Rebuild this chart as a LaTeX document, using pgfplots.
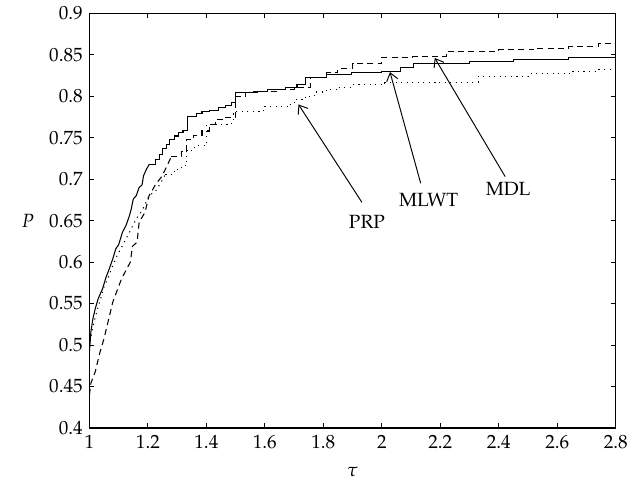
\documentclass[border=0pt]{standalone}
\usepackage[T1]{fontenc}
\usepackage{mathpazo}
\usepackage{pgfplots}
\pgfplotsset{compat=1.18}
\usetikzlibrary{arrows.meta}

\begin{document}
\begin{tikzpicture}
\begin{axis}[
    scale only axis,
    width=275.4pt,
    height=217.1pt,
    xmin=1, xmax=2.8,
    ymin=0.4, ymax=0.9,
    xtick={1,1.2,...,2.8},
    ytick={0.4,0.45,...,0.9},
    xticklabels={1,1.2,1.4,1.6,1.8,2,2.2,2.4,2.6,2.8},
    yticklabels={0.4,0.45,0.5,0.55,0.6,0.65,0.7,0.75,0.8,0.85,0.9},
    tick align=inside,
    tick pos=both,
    major tick length=2.6pt,
    axis line style={line width=0.6pt},
    every tick/.style={black, line width=0.5pt},
    xlabel={$\tau$},
    ylabel={$P$},
    xlabel style={at={(axis description cs:0.5,-0.105)}, anchor=center},
    ylabel style={at={(axis description cs:-0.117,0.5)}, anchor=center, rotate=-90},
    clip=true,
]

% MLWT (solid): steep part, then steps
\addplot[black, line width=0.55pt, sharp plot] coordinates {
(1.000,0.492) (1.005,0.516) (1.012,0.532) (1.020,0.544) (1.030,0.556)
(1.045,0.568) (1.057,0.582) (1.068,0.592) (1.080,0.604) (1.090,0.616)
(1.100,0.621) (1.113,0.636) (1.125,0.644) (1.136,0.655) (1.143,0.664)
(1.150,0.676) (1.160,0.680) (1.170,0.690) (1.180,0.693) (1.185,0.704)
(1.195,0.712) (1.205,0.718)
};
\addplot[black, line width=0.55pt, const plot mark left] coordinates {
(1.205,0.718) (1.225,0.724) (1.240,0.730)
(1.250,0.737) (1.262,0.742) (1.275,0.748) (1.290,0.752) (1.305,0.756)
(1.320,0.759) (1.335,0.776) (1.365,0.779) (1.385,0.781) (1.410,0.783)
(1.440,0.786) (1.465,0.789) (1.485,0.792) (1.500,0.804) (1.560,0.806)
(1.610,0.808) (1.670,0.811) (1.710,0.814) (1.740,0.822) (1.810,0.826)
(1.895,0.828) (2.000,0.830) (2.065,0.835) (2.110,0.839) (2.300,0.842)
(2.450,0.844) (2.640,0.847) (2.800,0.847)
};

% MDL (dashed)
\addplot[black, line width=0.55pt, dash pattern=on 3.2pt off 2.2pt, sharp plot] coordinates {
(1.000,0.440) (1.005,0.454) (1.020,0.468) (1.035,0.490) (1.050,0.508)
(1.065,0.530) (1.080,0.552) (1.095,0.566) (1.110,0.580) (1.125,0.590)
(1.140,0.600) (1.147,0.619) (1.163,0.624) (1.170,0.648) (1.190,0.660)
(1.204,0.680) (1.227,0.694) (1.245,0.702) (1.260,0.712) (1.280,0.727)
};
\addplot[black, line width=0.55pt, dash pattern=on 3.2pt off 2.2pt, const plot mark left] coordinates {
(1.280,0.727)
(1.316,0.733) (1.333,0.748) (1.357,0.753) (1.385,0.758) (1.410,0.766)
(1.430,0.772) (1.460,0.774) (1.500,0.800) (1.535,0.804) (1.580,0.806)
(1.640,0.808) (1.700,0.811) (1.755,0.823) (1.810,0.828) (1.850,0.833)
(1.900,0.839) (2.000,0.847) (2.105,0.848) (2.220,0.854) (2.400,0.856)
(2.520,0.858) (2.640,0.860) (2.740,0.863) (2.800,0.863)
};

% PRP (dotted)
\addplot[black, line width=0.55pt, dash pattern=on 0.6pt off 2.3pt, sharp plot] coordinates {
(1.000,0.498) (1.008,0.516) (1.020,0.534) (1.035,0.552) (1.050,0.570)
(1.065,0.582) (1.080,0.596) (1.095,0.608) (1.110,0.618) (1.125,0.628)
(1.140,0.638) (1.160,0.652) (1.180,0.662) (1.204,0.680) (1.227,0.686)
(1.245,0.696) (1.260,0.706)
};
\addplot[black, line width=0.55pt, dash pattern=on 0.6pt off 2.3pt, const plot mark left] coordinates {
(1.260,0.706) (1.290,0.712) (1.315,0.716) (1.333,0.735) (1.360,0.740)
(1.400,0.766) (1.487,0.768) (1.492,0.781) (1.595,0.787) (1.680,0.790)
(1.700,0.796) (1.740,0.800) (1.770,0.805) (1.810,0.808) (1.850,0.811)
(1.900,0.814) (2.010,0.816) (2.190,0.817) (2.330,0.824) (2.500,0.827)
(2.650,0.830) (2.740,0.832) (2.800,0.832)
};

% annotations
\draw[line width=0.5pt, -{Straight Barb[length=4pt,width=6pt]}] (axis cs:1.932,0.672) -- (axis cs:1.715,0.790);
\draw[line width=0.5pt, -{Straight Barb[length=4pt,width=6pt]}] (axis cs:2.133,0.695) -- (axis cs:2.028,0.829);
\draw[line width=0.5pt, -{Straight Barb[length=4pt,width=6pt]}] (axis cs:2.422,0.703) -- (axis cs:2.181,0.846);
\node at (axis cs:1.949,0.649) {PRP};
\node at (axis cs:2.160,0.675) {MLWT};
\node at (axis cs:2.432,0.688) {MDL};
\end{axis}
\path ([shift={(-46.8pt,-31.8pt)}]current axis.south west) rectangle ([shift={(7.8pt,6.8pt)}]current axis.north east);
\end{tikzpicture}
\end{document}
